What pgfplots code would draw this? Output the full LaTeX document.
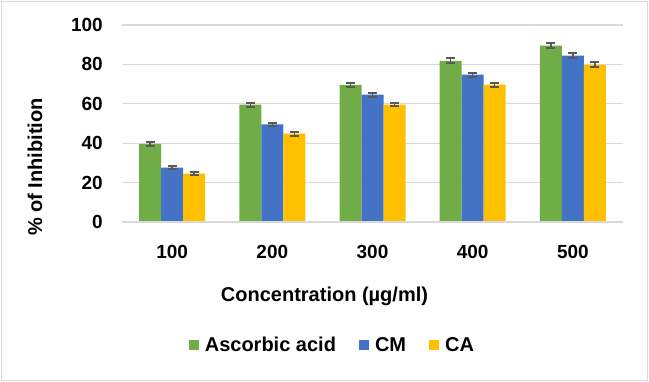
\documentclass[border=0pt]{standalone}
\usepackage{pgfplots}
\pgfplotsset{compat=1.18}
\usepackage{fontspec}
\setmainfont{Liberation Sans}
\definecolor{cgreen}{HTML}{70AD47}
\definecolor{cblue}{HTML}{4472C4}
\definecolor{cyellow}{HTML}{FFC000}
\definecolor{cgrid}{HTML}{D9D9D9}
\definecolor{cerr}{HTML}{595959}
\begin{document}
\begin{tikzpicture}
\useasboundingbox (0pt,0pt) rectangle (649pt,382pt);
\fill[white] (0pt,0pt) rectangle (649pt,382pt);
\draw[cgrid, line width=1.5pt] (1.5pt,1.5pt) rectangle (647.5pt,380.5pt);
\begin{axis}[
  at={(122pt,160pt)}, anchor=south west,
  scale only axis, width=501pt, height=197pt,
  ybar=0pt, bar width=22pt,
  xmin=-0.5, xmax=4.5, ymin=0, ymax=100,
  xtick={0,1,2,3,4}, xticklabels={100,200,300,400,500},
  ytick={0,20,40,60,80,100},
  axis line style={draw=none},
  major tick length=0pt,
  ymajorgrids, grid style={cgrid, line width=1.2pt},
  /pgf/number format/assume math mode=true,
  tick label style={font=\bfseries\fontsize{19}{21}\selectfont, inner sep=0pt},
  yticklabel style={xshift=-19pt},
  xticklabel style={yshift=-23pt},
  legend columns=3,
  legend style={at={(0.418,-0.624)}, anchor=center, draw=none, fill=none,
    font=\bfseries\fontsize{20}{22}\selectfont, nodes={inner sep=0pt},
    /tikz/every odd column/.append style={column sep=6pt},
    /tikz/every even column/.append style={column sep=23pt}},
  legend image code/.code={\fill[#1] (0pt,-5pt) rectangle (10pt,5pt);},
  error bars/y dir=both, error bars/y explicit,
  error bars/error bar style={line width=1.5pt, cerr},
  error bars/error mark options={rotate=90, mark size=4.5pt, line width=2pt, cerr},
]
\addplot[fill=cgreen, draw=none] coordinates {
 (0,39.7) +- (0,1.0) (1,59.6) +- (0,1.0) (2,69.6) +- (0,1.0) (3,81.8) +- (0,1.2) (4,89.5) +- (0,1.3)};
\addplot[fill=cblue, draw=none] coordinates {
 (0,27.6) +- (0,0.9) (1,49.5) +- (0,0.9) (2,64.6) +- (0,0.9) (3,74.8) +- (0,1.0) (4,84.5) +- (0,1.2)};
\addplot[fill=cyellow, draw=none] coordinates {
 (0,24.6) +- (0,0.9) (1,44.8) +- (0,0.9) (2,59.6) +- (0,0.9) (3,69.7) +- (0,1.0) (4,79.8) +- (0,1.2)};
\draw[cgrid, line width=1.2pt] (rel axis cs:0,0) -- (rel axis cs:1,0);
\legend{Ascorbic acid, CM, CA}
\end{axis}
\node[font=\bfseries\fontsize{20}{22}\selectfont, rotate=90, inner sep=0pt] at (35pt,215pt) {\% of Inhibition};
\node[font=\bfseries\fontsize{20}{22}\selectfont, inner sep=0pt] at (324.5pt,86pt) {Concentration (µg/ml)};
\end{tikzpicture}
\end{document}
